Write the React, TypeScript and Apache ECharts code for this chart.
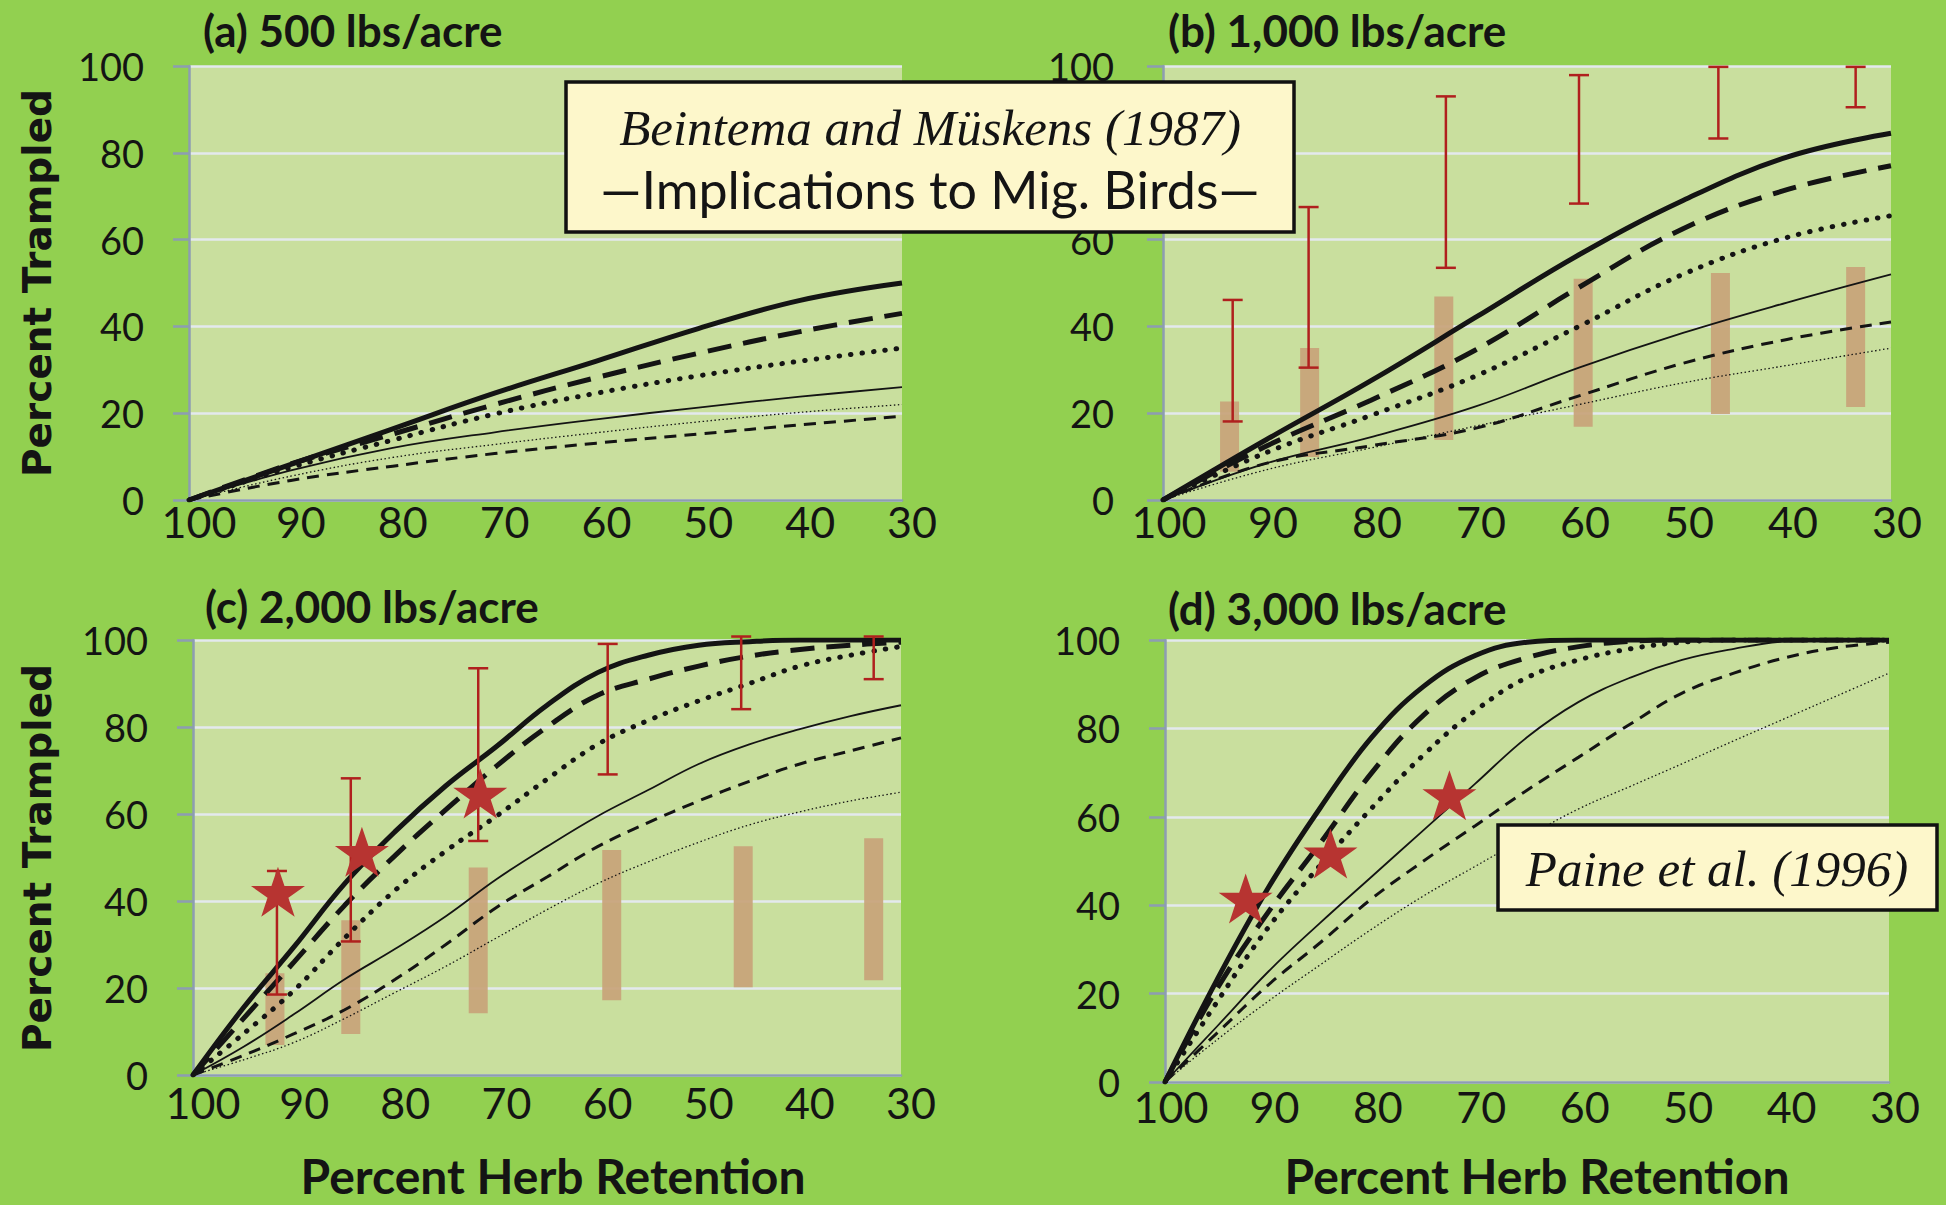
import React, { useEffect, useRef } from 'react';
import * as echarts from 'echarts';

// ---------- data ----------
const xCoarse = [100, 90, 80, 70, 60, 50, 40, 30];
const xFine = [100, 95, 90, 85, 80, 75, 70, 65, 60, 55, 50, 45, 40, 35, 30];

// Panel (a) 500 lbs/acre
const aThickSolid = [0, 8.2, 16.4, 24.6, 32, 39.5, 46, 50];
const aThickDashed = [0, 8.3, 15.2, 22, 28.2, 33.8, 38.8, 43];
const aThickDotted = [0, 7.5, 13.8, 19.8, 24.6, 28.6, 32, 35];
const aThinSolid = [0, 6.8, 12, 15.6, 18.6, 21.3, 23.8, 26];
const aMedDashed = [0, 4.5, 7.8, 10.7, 13.1, 15.2, 17.3, 19.3];
const aThinDotted = [0, 5.5, 9.8, 12.8, 15.5, 18, 20.2, 22];

// Panel (b) 1,000 lbs/acre
const bThickSolid = [0, 14, 27.5, 42, 56.5, 69, 79, 84.5];
const bThickDashed = [0, 12.5, 23, 34.5, 49, 62.5, 71.5, 77];
const bThickDotted = [0, 11, 19.5, 28.5, 40, 52, 60.5, 65.5];
const bThinSolid = [0, 8.5, 14.5, 21.5, 30.5, 38.5, 45.5, 52];
const bMedDashed = [0, 8.5, 12.5, 16.5, 24, 31.5, 37, 41];
const bThinDotted = [0, 7, 12, 17, 22, 27, 31, 35];

// Panel (c) 2,000 lbs/acre
const cThickSolid = [0, 15.5, 29.5, 44, 56, 66.5, 75.5, 85, 92.5, 96.5, 98.8, 99.6, 100, 100, 100];
const cThickDashed = [0, 13, 26, 39, 50.5, 61, 71, 80, 87.3, 91, 94, 96.3, 97.8, 98.8, 99.5];
const cThickDotted = [0, 9.5, 19.5, 31.5, 42.5, 51.5, 59.5, 68, 76, 81.5, 86, 90, 94, 96.5, 98.5];
const cThinSolid = [0, 6.5, 14, 22, 29, 36.5, 45, 52.5, 59.5, 65.5, 71.5, 76, 79.5, 82.5, 85];
const cMedDashed = [0, 4.5, 9.5, 15, 22, 30, 38.5, 45.5, 52.5, 58, 63, 67.5, 71.5, 74.5, 77.5];
const cThinDotted = [0, 3.5, 7.5, 13, 19, 25, 31.5, 38, 44, 49, 53.5, 57.5, 60.5, 63, 65];

// Panel (d) 3,000 lbs/acre
const dThickSolid = [0, 23, 44, 62, 78, 89.5, 96.5, 99.5, 100, 100, 100, 100, 100, 100, 100];
const dThickDashed = [0, 21, 38.5, 54, 70, 83, 91.5, 96, 98.5, 99.7, 100, 100, 100, 100, 100];
const dThickDotted = [0, 18, 35, 49, 62, 74, 84, 91.5, 95.5, 98, 99.5, 100, 100, 100, 100];
const dThinSolid = [0, 12.5, 25, 36, 46.5, 57, 67.5, 78, 86, 91.5, 95.5, 98, 99.7, 100, 100];
const dMedDashed = [0, 11, 22, 31.5, 41.5, 50, 58, 66, 73.5, 81, 88, 92.5, 96, 98.3, 99.5];
const dThinDotted = [0, 9.5, 18.3, 26.5, 34.6, 42.1, 48.8, 55.5, 61.8, 66.9, 72, 77.2, 82.3, 87.4, 92.5];

// Range bars (tan) and error bars (red)
const bTanX = [93.6, 85.9, 73.0, 59.6, 46.4, 33.4];
const bTanLow = [6.5, 9.9, 13.8, 16.9, 19.8, 21.4];
const bTanHigh = [22.7, 35, 46.9, 51, 52.3, 53.7];
const bErrX = [93.3, 86.0, 72.8, 60.0, 46.6, 33.4];
const bErrLow = [18.1, 30.5, 53.5, 68.3, 83.3, 90.5];
const bErrHigh = [46.1, 67.5, 93, 97.9, 99.8, 99.8];

const cTanX = [91.9, 84.4, 71.8, 58.6, 45.6, 32.7];
const cTanLow = [6.9, 9.4, 14.2, 17.2, 20.2, 21.8];
const cTanHigh = [23.4, 35.6, 47.7, 51.7, 52.6, 54.4];
const cErrX = [91.7, 84.4, 71.8, 59.0, 45.8, 32.7];
const cErrLow = [18.5, 30.7, 53.8, 69.1, 84.1, 91];
const cErrHigh = [46.9, 68.2, 93.5, 99.1, 100.8, 100.8];

// Stars (Paine et al. 1996)
const cStarX = [91.6, 83.3, 71.6];
const cStarY = [42.1, 51.3, 64.7];
const dStarX = [92.2, 84, 72.5];
const dStarY = [41.5, 51.7, 64.9];

const panelTitles = ['(a) 500 lbs/acre', '(b) 1,000 lbs/acre', '(c) 2,000 lbs/acre', '(d) 3,000 lbs/acre'];

// ---------- styling ----------
const BG = '#92d050';
const PLOT_BG = '#c9df9e';
const AXIS = '#8d9db2';
const GRIDLINE = '#e3e9ee';
const INK = '#141414';
const TAN = '#c8a37a';
const RED = '#b0201e';
const STAR = '#b73431';

const grids = [
  { left: 189, top: 66, width: 713, height: 434 },
  { left: 1163, top: 66, width: 728, height: 434 },
  { left: 193, top: 640, width: 708, height: 435 },
  { left: 1165, top: 640, width: 724, height: 442 },
];
const xLabelMargin = [0, 0, 6, 3];
const xLabelPad = [20, 12, 20, 12];
const yLabelMargin = [45, 49, 45, 45];

const lineStyles = [
  { width: 5, type: 'solid' as any, cap: 'butt' },
  { width: 5, type: [24, 12] as any, cap: 'butt' },
  { width: 5, type: [0.5, 11] as any, cap: 'round' },
  { width: 1.8, type: 'solid' as any, cap: 'butt' },
  { width: 3, type: [12, 8] as any, cap: 'butt' },
  { width: 1.3, type: [1.5, 2.5] as any, cap: 'butt' },
];

const STAR_PATH =
  'path://M50,0 L61.8,35.1 L98.9,35.1 L68.9,56.8 L80.3,91.9 L50,70.2 L19.7,91.9 L31.1,56.8 L1.1,35.1 L38.2,35.1 Z';

function lineSeries(idx: number, xs: number[], curves: number[][]) {
  return curves.map((ys, k) => ({
    type: 'line',
    xAxisIndex: idx,
    yAxisIndex: idx,
    data: xs.map((x, i) => [x, ys[i]]),
    showSymbol: false,
    smooth: 0.4,
    z: 3,
    silent: true,
    lineStyle: {
      color: INK,
      width: lineStyles[k].width,
      type: lineStyles[k].type,
      cap: lineStyles[k].cap,
    },
  }));
}

function tanSeries(idx: number, xs: number[], lo: number[], hi: number[]) {
  return {
    type: 'custom',
    xAxisIndex: idx,
    yAxisIndex: idx,
    z: 2,
    silent: true,
    clip: false,
    encode: { x: 0, y: [1, 2] },
    data: xs.map((x, i) => [x, lo[i], hi[i]]),
    renderItem: (_p: any, api: any) => {
      const top = api.coord([api.value(0), api.value(2)]);
      const bot = api.coord([api.value(0), api.value(1)]);
      const w = 19;
      return {
        type: 'rect',
        shape: { x: top[0] - w / 2, y: top[1], width: w, height: bot[1] - top[1] },
        style: { fill: TAN, opacity: 0.92 },
      };
    },
  };
}

function errSeries(idx: number, xs: number[], lo: number[], hi: number[]) {
  return {
    type: 'custom',
    xAxisIndex: idx,
    yAxisIndex: idx,
    z: 4,
    silent: true,
    clip: false,
    encode: { x: 0, y: [1, 2] },
    data: xs.map((x, i) => [x, lo[i], hi[i]]),
    renderItem: (_p: any, api: any) => {
      const top = api.coord([api.value(0), api.value(2)]);
      const bot = api.coord([api.value(0), api.value(1)]);
      const c = 10;
      const st = { stroke: RED, lineWidth: 2.5 };
      return {
        type: 'group',
        children: [
          { type: 'line', shape: { x1: top[0], y1: top[1], x2: bot[0], y2: bot[1] }, style: st },
          { type: 'line', shape: { x1: top[0] - c, y1: top[1], x2: top[0] + c, y2: top[1] }, style: st },
          { type: 'line', shape: { x1: bot[0] - c, y1: bot[1], x2: bot[0] + c, y2: bot[1] }, style: st },
        ],
      };
    },
  };
}

function starSeries(idx: number, xs: number[], ys: number[]) {
  return {
    type: 'scatter',
    xAxisIndex: idx,
    yAxisIndex: idx,
    z: 5,
    silent: true,
    symbol: STAR_PATH,
    symbolSize: [54, 50],
    itemStyle: { color: STAR, opacity: 1 },
    data: xs.map((x, i) => [x, ys[i]]),
  };
}

function buildOption() {
  const xAxis = grids.map((_, i) => ({
    type: 'value',
    gridIndex: i,
    min: 30,
    max: 100,
    interval: 10,
    inverse: true,
    axisLine: { show: true, onZero: false, lineStyle: { color: AXIS, width: 2.5 } },
    axisTick: { show: false },
    splitLine: { show: false },
    axisLabel: {
      fontSize: 43,
      fontFamily: 'Lato',
      color: INK,
      margin: xLabelMargin[i],
      padding: [0, 0, 0, xLabelPad[i]],
    },
  }));
  const yAxis = grids.map((_, i) => ({
    type: 'value',
    gridIndex: i,
    min: 0,
    max: 100,
    interval: 20,
    axisLine: { show: true, lineStyle: { color: AXIS, width: 2.5 } },
    axisTick: { show: true, length: 16, lineStyle: { color: AXIS, width: 2.5 } },
    splitLine: { show: true, lineStyle: { color: GRIDLINE, width: 2.5 } },
    axisLabel: { fontSize: 38, fontFamily: 'Lato', color: INK, margin: yLabelMargin[i] },
  }));

  const series: any[] = [
    ...lineSeries(0, xCoarse, [aThickSolid, aThickDashed, aThickDotted, aThinSolid, aMedDashed, aThinDotted]),
    tanSeries(1, bTanX, bTanLow, bTanHigh),
    ...lineSeries(1, xCoarse, [bThickSolid, bThickDashed, bThickDotted, bThinSolid, bMedDashed, bThinDotted]),
    errSeries(1, bErrX, bErrLow, bErrHigh),
    tanSeries(2, cTanX, cTanLow, cTanHigh),
    ...lineSeries(2, xFine, [cThickSolid, cThickDashed, cThickDotted, cThinSolid, cMedDashed, cThinDotted]),
    errSeries(2, cErrX, cErrLow, cErrHigh),
    starSeries(2, cStarX, cStarY),
    ...lineSeries(3, xFine, [dThickSolid, dThickDashed, dThickDotted, dThinSolid, dMedDashed, dThinDotted]),
    starSeries(3, dStarX, dStarY),
  ];

  const titlePos = [
    [203, 30],
    [1168, 30],
    [205, 606],
    [1168, 608],
  ];
  const graphic: any[] = [];
  panelTitles.forEach((t, i) => {
    graphic.push({
      type: 'text',
      x: titlePos[i][0],
      y: titlePos[i][1],
      z: 10,
      style: {
        text: t,
        fontFamily: 'Lato',
        fontWeight: 'bold',
        fontSize: 44,
        fill: INK,
        align: 'left',
        verticalAlign: 'middle',
      },
    });
  });
  [283, 858].forEach((cy) => {
    graphic.push({
      type: 'text',
      x: 37,
      y: cy,
      rotation: Math.PI / 2,
      z: 10,
      style: {
        text: 'Percent Trampled',
        fontFamily: 'DejaVu Sans',
        fontWeight: 'bold',
        fontSize: 39,
        fill: INK,
        align: 'center',
        verticalAlign: 'middle',
      },
    });
  });
  [553, 1537].forEach((cx) => {
    graphic.push({
      type: 'text',
      x: cx,
      y: 1175,
      z: 10,
      style: {
        text: 'Percent Herb Retention',
        fontFamily: 'Lato',
        fontWeight: 'bold',
        fontSize: 48,
        fill: INK,
        align: 'center',
        verticalAlign: 'middle',
      },
    });
  });
  // Beintema box
  graphic.push({
    type: 'rect',
    z: 20,
    shape: { x: 566, y: 82, width: 728, height: 150 },
    style: { fill: '#fdf7cb', stroke: '#111', lineWidth: 3.5 },
  });
  graphic.push({
    type: 'text',
    z: 21,
    x: 930,
    y: 158,
    style: {
      text: '{a|Beintema and Müskens (1987)}\n{b|—Implications to Mig. Birds—}',
      align: 'center',
      verticalAlign: 'middle',
      fill: INK,
      rich: {
        a: {
          fontFamily: 'Liberation Serif',
          fontStyle: 'italic',
          fontSize: 51,
          lineHeight: 61,
          fill: INK,
          align: 'center',
        },
        b: {
          fontFamily: 'Lato',
          fontSize: 52,
          lineHeight: 61,
          fill: INK,
          align: 'center',
        },
      },
    },
  });
  // Paine box
  graphic.push({
    type: 'rect',
    z: 20,
    shape: { x: 1498, y: 825, width: 439, height: 85 },
    style: { fill: '#fdf7cb', stroke: '#111', lineWidth: 3.5 },
  });
  graphic.push({
    type: 'text',
    z: 21,
    x: 1717,
    y: 869,
    style: {
      text: 'Paine et al. (1996)',
      fontFamily: 'Liberation Serif',
      fontStyle: 'italic',
      fontSize: 51,
      fill: INK,
      align: 'center',
      verticalAlign: 'middle',
    },
  });

  return {
    animation: false,
    backgroundColor: BG,
    textStyle: { fontFamily: 'Lato' },
    grid: grids.map((g) => ({ ...g, show: true, backgroundColor: PLOT_BG, borderWidth: 0, containLabel: false })),
    xAxis,
    yAxis,
    series,
    graphic,
  };
}

export default function App() {
  const ref = useRef<HTMLDivElement>(null);
  useEffect(() => {
    if (!ref.current) return;
    const chart = echarts.init(ref.current, undefined, { renderer: 'svg' });
    chart.setOption(buildOption() as any);
    return () => chart.dispose();
  }, []);
  return (
    <div
      ref={ref}
      style={{ position: 'absolute', left: 0, top: 0, width: 1946, height: 1205 }}
    />
  );
}
